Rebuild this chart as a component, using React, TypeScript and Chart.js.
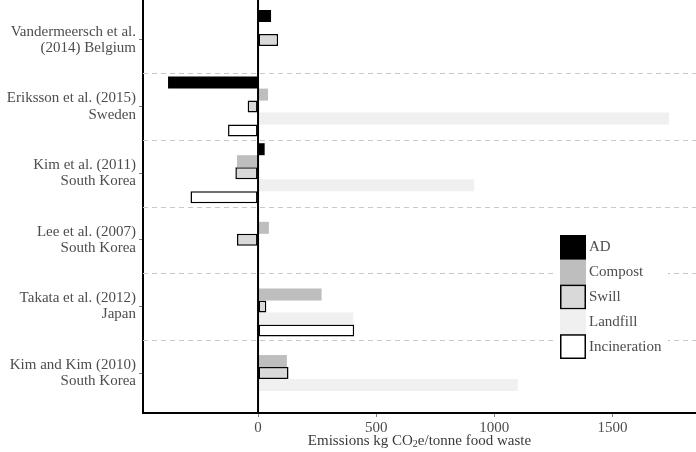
import React, { useEffect, useRef } from "react";
import { Chart, registerables } from "chart.js";

Chart.register(...registerables);

const categories: string[][] = [
  ["Vandermeersch et al.", "(2014) Belgium"],
  ["Eriksson et al. (2015)", "Sweden"],
  ["Kim et al. (2011)", "South Korea"],
  ["Lee et al. (2007)", "South Korea"],
  ["Takata et al. (2012)", "Japan"],
  ["Kim and Kim (2010)", "South Korea"],
];

const seriesNames = ["AD", "Compost", "Swill", "Landfill", "Incineration"];
const adValues = [55, -381, 28, null, null, null];
const compostValues = [null, 42, -89, 46, 269, 122];
const swillValues = [85, -44, -96, -89, 35, 129];
const landfillValues = [null, 1740, 915, null, 403, 1099];
const incinerationValues = [null, -127, -286, null, 407, null];

const xTicks = [0, 500, 1000, 1500];
const xMin = -487;
const xMax = 1854;

const fills = ["#000000", "#bebebe", "#d9d9d9", "#f0f0f0", "#ffffff"];
const borders = [0, 0, 1.5, 0, 1.5];

const FONT = "'Liberation Serif', 'Times New Roman', serif";
const FS = 15;

export default function App() {
  const ref = useRef<HTMLCanvasElement | null>(null);

  useEffect(() => {
    if (!ref.current) return;
    const allValues = [adValues, compostValues, swillValues, landfillValues, incinerationValues];
    const datasets = allValues.map((vals, k) => ({
      label: seriesNames[k],
      data: categories.map((_, i) => ({ y: i, x: vals[i] })),
      backgroundColor: fills[k],
      borderColor: "#000000",
      borderWidth: borders[k],
      borderSkipped: false as const,
      categoryPercentage: 0.9,
      barPercentage: 1.0,
    }));

    const gridPlugin = {
      id: "boundaries",
      beforeDatasetsDraw(chart: any) {
        const { ctx, chartArea, scales } = chart;
        const y = scales.y;
        ctx.save();
        ctx.strokeStyle = "#c8c8c8";
        ctx.lineWidth = 1;
        ctx.setLineDash([5, 4]);
        for (let i = 0; i < categories.length - 1; i++) {
          const py = Math.round(y.getPixelForValue(i + 0.5)) + 0.5;
          ctx.beginPath();
          ctx.moveTo(chartArea.left, py);
          ctx.lineTo(chartArea.right, py);
          ctx.stroke();
        }
        ctx.restore();
      },
      afterDatasetsDraw(chart: any) {
        const { ctx, chartArea, scales } = chart;
        const px = scales.x.getPixelForValue(0);
        ctx.save();
        ctx.strokeStyle = "#000000";
        ctx.lineWidth = 2;
        ctx.beginPath();
        ctx.moveTo(px, chartArea.top);
        ctx.lineTo(px, chartArea.bottom);
        ctx.stroke();
        ctx.restore();
      },
      afterDraw(chart: any) {
        const { ctx, chartArea } = chart;
        ctx.save();
        // legend
        const lx = 560, ly = 235, kw = 26, kh = 24.8;
        ctx.fillStyle = "#ffffff";
        ctx.fillRect(553, 230, 115, 135);
        for (let k = 0; k < seriesNames.length; k++) {
          const ky = ly + k * kh;
          ctx.fillStyle = fills[k];
          ctx.fillRect(lx, ky, kw, kh);
          if (borders[k] > 0) {
            ctx.strokeStyle = "#000";
            ctx.lineWidth = 1.5;
            ctx.strokeRect(lx + 0.75, ky + 0.75, kw - 1.5, kh - 1.5);
          }
          ctx.fillStyle = "#4d4d4d";
          ctx.font = `${FS}px ${FONT}`;
          ctx.textAlign = "left";
          ctx.textBaseline = "middle";
          ctx.fillText(seriesNames[k], lx + kw + 3, ky + kh / 2);
        }
        // axis title with subscript
        const parts = ["Emissions kg CO", "2", "e/tonne food waste"];
        ctx.font = `${FS}px ${FONT}`;
        const w1 = ctx.measureText(parts[0]).width;
        const w3 = ctx.measureText(parts[2]).width;
        ctx.font = `10px ${FONT}`;
        const w2 = ctx.measureText(parts[1]).width;
        const total = w1 + w2 + w3;
        let tx = (chartArea.left + chartArea.right) / 2 - total / 2;
        const ty = 441;
        ctx.fillStyle = "#3a3a3a";
        ctx.textBaseline = "middle";
        ctx.textAlign = "left";
        ctx.font = `${FS}px ${FONT}`;
        ctx.fillText(parts[0], tx, ty);
        tx += w1;
        ctx.font = `10px ${FONT}`;
        ctx.fillText(parts[1], tx, ty + 3);
        tx += w2;
        ctx.font = `${FS}px ${FONT}`;
        ctx.fillText(parts[2], tx, ty);
        ctx.restore();
      },
    };

    const chart = new Chart(ref.current, {
      type: "bar",
      data: { datasets: datasets as any },
      options: {
        indexAxis: "y",
        animation: false,
        responsive: false,
        maintainAspectRatio: false,
        layout: { padding: 0 },
        plugins: { legend: { display: false }, tooltip: { enabled: false } },
        scales: {
          y: {
            type: "linear",
            offset: false,
            min: -0.6,
            max: categories.length - 0.4,
            reverse: true,
            afterBuildTicks: (axis: any) => {
              axis.ticks = categories.map((_, i) => ({ value: i }));
            },
            afterFit: (axis: any) => {
              axis.width = 143;
              axis.paddingTop = 0;
              axis.paddingBottom = 0;
            },
            ticks: {
              callback: (v: any) => categories[v as number],
              color: "#4d4d4d",
              font: { family: FONT, size: FS, lineHeight: 1.07 },
              padding: 3,
            },
            grid: {
              offset: false,
              drawOnChartArea: false,
              drawTicks: true,
              tickLength: 4,
              tickColor: "#7f7f7f",
              tickWidth: 1,
            },
            border: { display: true, color: "#000000", width: 2 },
          },
          x: {
            type: "linear",
            min: xMin,
            max: xMax,
            afterBuildTicks: (axis: any) => {
              axis.ticks = xTicks.map((v) => ({ value: v }));
            },
            afterFit: (axis: any) => {
              axis.height = 39;
              axis.paddingLeft = 0;
              axis.paddingRight = 0;
            },
            ticks: {
              callback: (v: any) => String(v),
              color: "#4d4d4d",
              font: { family: FONT, size: FS },
              padding: 2,
              maxRotation: 0,
              autoSkip: false,
            },
            grid: {
              drawOnChartArea: false,
              drawTicks: true,
              tickLength: 4,
              tickColor: "#7f7f7f",
              tickWidth: 1,
            },
            border: { display: true, color: "#000000", width: 2 },
          },
        },
      },
      plugins: [gridPlugin],
    });
    return () => chart.destroy();
  }, []);

  return (
    <div style={{ position: "absolute", left: 0, top: 0, width: 696, height: 452, background: "#fff" }}>
      <canvas ref={ref} width={696} height={452} style={{ display: "block", width: 696, height: 452 }} />
    </div>
  );
}
